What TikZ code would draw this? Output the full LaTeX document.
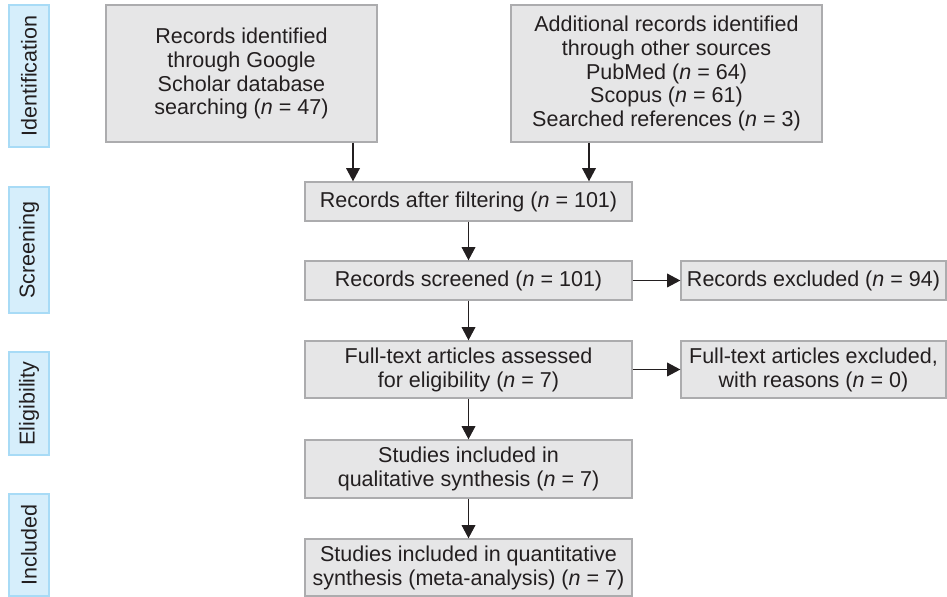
\documentclass[tikz,border=0pt]{standalone}
\usepackage{fontspec}
\setmainfont{Liberation Sans}
\usetikzlibrary{arrows.meta}
\definecolor{boxgray}{RGB}{230,230,231}
\definecolor{edgegray}{RGB}{172,172,174}
\definecolor{phasefill}{RGB}{214,238,251}
\definecolor{phaseedge}{RGB}{168,219,246}
\definecolor{inkgray}{RGB}{35,31,32}
\newcommand{\nval}[1]{(\textit{n} = #1)}

\begin{document}
\begin{tikzpicture}[x=0.02cm, y=-0.02cm,
    font=\fontsize{12.25}{13.6}\selectfont, text=inkgray,
    flowbox/.style={draw=edgegray, fill=boxgray, line width=0.8pt, align=center, inner sep=0pt},
    phasebox/.style={draw=phaseedge, fill=phasefill, line width=0.8pt, rotate=90, inner sep=0pt, minimum height=0.8cm},
    flowarrow/.style={draw=inkgray, line width=0.65pt, -{Triangle[length=7.5pt, width=7.8pt]}}]
\useasboundingbox (0,0) rectangle (947,597);

% phase labels on the left
\foreach \name/\yc/\len in {Identification/76/2.84, Screening/250/2.52, Eligibility/403.5/2.06, Included/545/2.04}{
    \node[phasebox, minimum width=\len cm] (phase-\name) at (29,\yc) {\name};
}

% identification
\node[flowbox, minimum width=5.42cm, minimum height=2.74cm] (google) at (241.5,73.5)
    {Records identified\\through Google\\Scholar database\\searching \nval{47}};
\node[flowbox, minimum width=6.22cm, minimum height=2.74cm] (other) at (666.5,73.5)
    {Additional records identified\\through other sources\\PubMed \nval{64}\\Scopus \nval{61}\\Searched references \nval{3}};

% main column
\node[flowbox, minimum width=6.54cm, minimum height=0.78cm] (filtered) at (468.5,201.5) {Records after filtering \nval{101}};
\node[flowbox, minimum width=6.54cm, minimum height=0.78cm] (screened) at (468.5,280.5) {Records screened \nval{101}};
\node[flowbox, minimum width=6.54cm, minimum height=1.14cm] (fulltext) at (468.5,369.5) {Full-text articles assessed\\for eligibility \nval{7}};
\node[flowbox, minimum width=6.54cm, minimum height=1.16cm] (quali) at (468.5,469) {Studies included in\\qualitative synthesis \nval{7}};
\node[flowbox, minimum width=6.54cm, minimum height=1.14cm] (quanti) at (468.5,567.5) {Studies included in quantitative\\synthesis (meta-analysis) \nval{7}};

% exclusions
\node[flowbox, minimum width=5.30cm, minimum height=0.78cm] (excluded) at (813.5,280.5) {Records excluded \nval{94}};
\node[flowbox, minimum width=5.30cm, minimum height=1.14cm] (ftexcluded) at (813.5,369.5) {Full-text articles excluded,\\with reasons \nval{0}};

% arrows
\coordinate (leftin) at (353,0);
\coordinate (rightin) at (589,0);
\draw[flowarrow] (google.south -| leftin) -- (filtered.north -| leftin);
\draw[flowarrow] (other.south -| rightin) -- (filtered.north -| rightin);

\foreach \a/\b in {filtered/screened, screened/fulltext, fulltext/quali, quali/quanti}{
    \draw[flowarrow] (\a.south) -- (\b.north);
}
\draw[flowarrow] (screened.east) -- (excluded.west);
\draw[flowarrow] (fulltext.east) -- (ftexcluded.west);

\end{tikzpicture}
\end{document}
